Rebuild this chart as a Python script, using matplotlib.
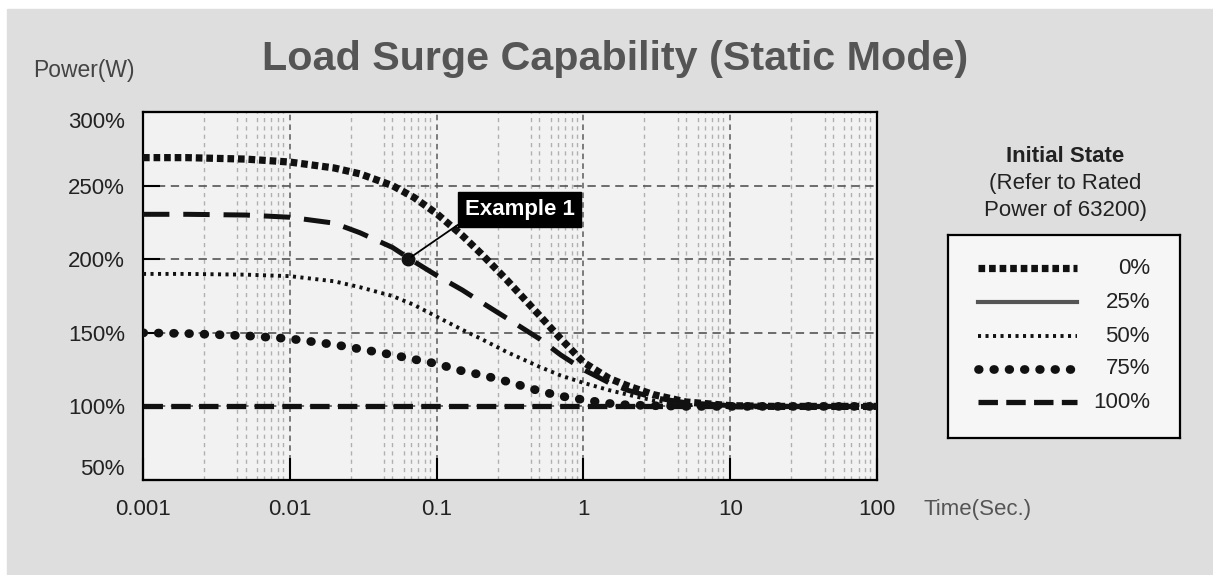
import numpy as np
import matplotlib
matplotlib.use("Agg")
import matplotlib.pyplot as plt
from matplotlib.patches import Rectangle

plt.rcParams['font.family'] = ['Liberation Sans', 'DejaVu Sans']
plt.rcParams['lines.scale_dashes'] = False

# data
t = [0.001, 0.002, 0.005, 0.01, 0.02, 0.03, 0.05, 0.07, 0.1, 0.15, 0.2, 0.3,
     0.5, 0.7, 1, 1.5, 2, 3, 5, 10, 20, 50, 100]
p0 = [269, 269, 268, 266, 262, 258, 250, 242, 231, 216, 204, 186,
      162, 146, 130, 119, 114, 108, 103, 100.5, 100, 100, 100]
p25 = [230.5, 230.5, 230, 228.5, 224.5, 218, 208, 198.5, 189, 179, 171, 160,
       146, 135, 125, 116, 111, 106, 102.5, 100.5, 100, 100, 100]
p50 = [190, 190, 189.5, 188.5, 185, 181, 175, 169, 161, 152, 146, 137,
       127, 121, 116, 111, 108, 104, 101, 100, 100, 100, 100]
p75 = [150, 149.5, 148, 146, 142, 139, 135, 132, 129, 124, 121.5, 117,
       110.5, 107, 104.5, 102, 101, 100.5, 100, 100, 100, 100, 100]
p100 = [100] * len(t)

states = ['0%', '25%', '50%', '75%', '100%']
xticks = [0.001, 0.01, 0.1, 1, 10, 100]
xlabels = ['0.001', '0.01', '0.1', '1', '10', '100']
yticks = [50, 100, 150, 200, 250, 300]
ylabels = ['50%', '100%', '150%', '200%', '250%', '300%']
minor_mult = [2.6, 4.4, 5.0, 6.0, 6.7, 7.5, 8.3, 9.0]   # odd grid spacing of the original
example_pt = (0.0638, 200)

W, H = 1213, 575
fig = plt.figure(figsize=(W / 100, H / 100), dpi=100, facecolor='white')
fig.patches.append(Rectangle((7 / W, 0), 1, 1 - 9 / H, transform=fig.transFigure,
                             color='#dedede', zorder=-10))

ax = fig.add_axes([143 / W, 1 - 480 / H, 734 / W, 368 / H])
ax.set_facecolor('#f2f2f2')
ax.set_xscale('log')
ax.set_xlim(0.001, 100)
ax.set_ylim(50, 300)

minors = [10.0 ** d * m for d in range(-3, 2) for m in minor_mult]
ax.set_xticks(xticks, xlabels)
ax.set_xticks(minors, minor=True)
ax.set_yticks(yticks, ylabels)
ax.tick_params(axis='x', which='major', direction='in', length=16, width=1.5,
               pad=14, labelsize=16, labelcolor='#222222')
ax.tick_params(axis='x', which='minor', length=0)
ax.tick_params(axis='y', direction='in', length=12, width=1.5, pad=13,
               labelsize=16, labelcolor='#222222')
ylab = ax.get_yticklabels()
ylab[-1].set_va('top')
ylab[0].set_va('bottom')

ax.grid(which='minor', axis='x', color='#b0b0b0', lw=1.0, dashes=(3, 3))
ax.grid(which='major', axis='x', color='#5a5a5a', lw=1.1, dashes=(4, 3))
ax.grid(which='major', axis='y', color='#555555', lw=1.2, dashes=(6, 4))
for s in ax.spines.values():
    s.set_linewidth(1.6)
    s.set_color('black')

k = '#111111'
ax.plot(t, p100, color=k, lw=3.8, dashes=(14, 6), zorder=3)
ax.plot(t, p75, color=k, lw=6.3, dashes=(0.5, 10.5), dash_capstyle='round', zorder=3)
ax.plot(t, p50, color=k, lw=2.8, dashes=(2.2, 3.2), zorder=3)
ax.plot(t, p25, color=k, lw=3.6, dashes=(19, 10), zorder=3)
ax.plot(t, p0, color=k, lw=5.2, dashes=(4.8, 2.8), zorder=3)

ax.plot(*example_pt, 'o', color=k, ms=9, zorder=5)
ax.annotate('Example 1', xy=example_pt, xytext=(0.156, 233.8), ha='left', va='center',
            fontsize=16, fontweight='bold', color='white', zorder=6,
            bbox=dict(boxstyle='square,pad=0.3', fc='black', ec='black'),
            arrowprops=dict(arrowstyle='-', color='black', lw=1.3, relpos=(0, 0),
                            shrinkA=0, shrinkB=3))

fig.text(615 / W, 1 - 70 / H, 'Load Surge Capability (Static Mode)', ha='center',
         va='baseline', fontsize=29.7, fontweight='bold', color='#555555')
fig.text(33 / W, 1 - 70 / H, 'Power(W)', ha='left', va='center', fontsize=16.5, color='#444444')
fig.text(923 / W, 1 - 510 / H, 'Time(Sec.)', ha='left', va='center', fontsize=16, color='#555555')

fig.text(1065 / W, 1 - 162 / H, 'Initial State', ha='center', va='baseline',
         fontsize=16, fontweight='bold', color='#222222')
fig.text(1065 / W, 1 - 189 / H, '(Refer to Rated', ha='center', va='baseline',
         fontsize=16, color='#222222')
fig.text(1065 / W, 1 - 216 / H, 'Power of 63200)', ha='center', va='baseline',
         fontsize=16, color='#222222')

# legend box drawn in its own axes, pixel units
lg = fig.add_axes([948 / W, 1 - 438 / H, 232 / W, 203 / H])
lg.set_xlim(948, 1180)
lg.set_ylim(438, 235)
lg.set_facecolor('#f6f6f6')
lg.set_xticks([])
lg.set_yticks([])
for s in lg.spines.values():
    s.set_linewidth(1.6)
    s.set_color('black')
rows = [268, 302, 336, 369, 402]
styles = [dict(lw=5.2, dashes=(4.8, 2.8), color=k),
          dict(lw=3.0, color='#555555'),
          dict(lw=2.8, dashes=(2.2, 3.2), color=k),
          dict(lw=6.3, dashes=(0.5, 10.5), dash_capstyle='round', color=k),
          dict(lw=3.8, dashes=(14, 6), color=k)]
for lab, yy, st in zip(states, rows, styles):
    lg.plot([978, 1077], [yy, yy], **st)
    lg.text(1150, yy, lab, ha='right', va='center', fontsize=16, color='#222222')

fig.savefig('out.png', dpi=100, facecolor=fig.get_facecolor())
